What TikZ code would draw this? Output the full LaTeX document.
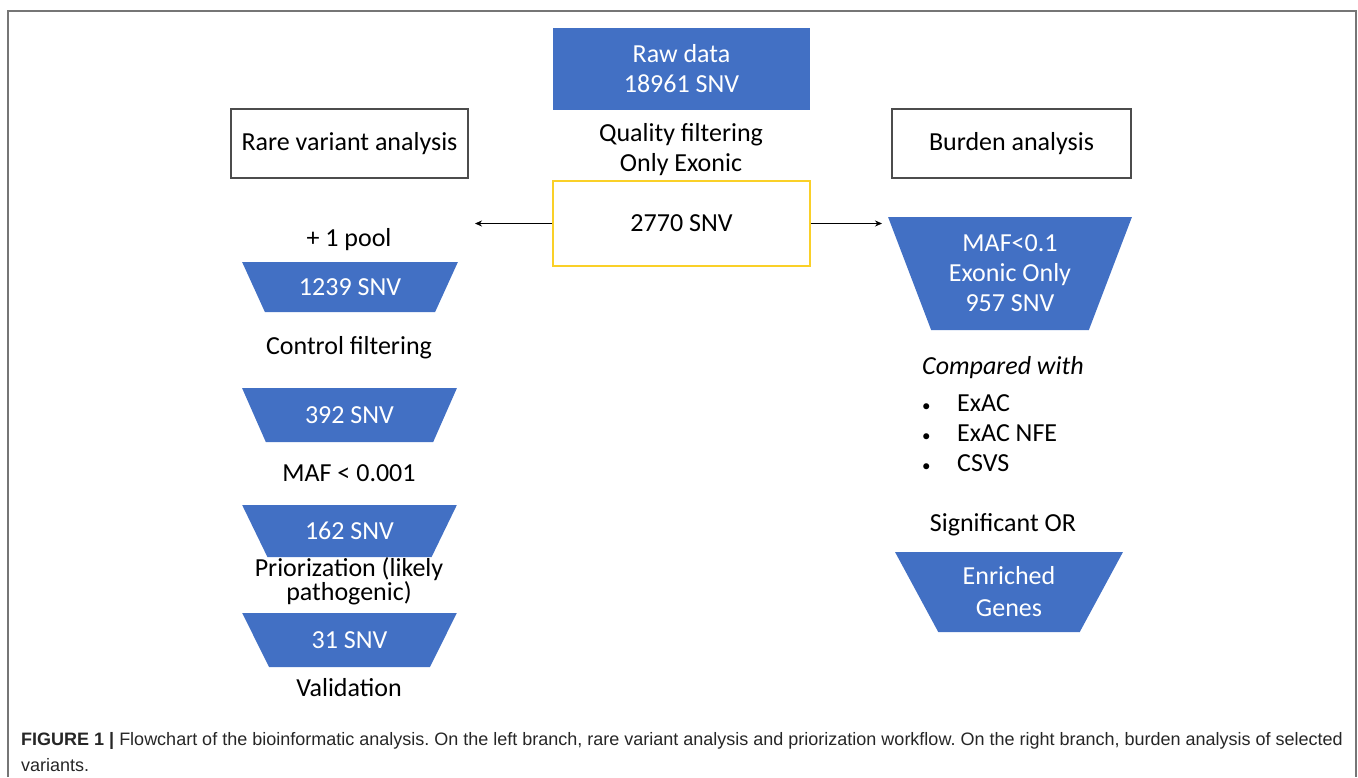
\documentclass[tikz,border=0pt]{standalone}
\usepackage{fontspec}
\setmainfont{Carlito}
\newfontfamily\captionfont{Liberation Sans}
\usepackage{xcolor}
\usetikzlibrary{arrows.meta, shapes.geometric}

\definecolor{flowblue}{RGB}{66,112,196}
\definecolor{boxgold}{RGB}{250,208,40}
\definecolor{framegray}{RGB}{118,118,118}

\frenchspacing
\begin{document}
\begin{tikzpicture}[
    x=1pt, y=-1pt,
    every node/.style={font=\fontsize{26}{30}\selectfont},
    title/.style={rectangle, draw=black!70, line width=1.2pt, minimum width=237pt, minimum height=69pt, inner sep=0pt},
    source/.style={rectangle, fill=flowblue, text=white, minimum width=257pt, minimum height=82pt, align=center},
    funnel/.style={trapezium, shape border rotate=180, trapezium stretches=true, fill=flowblue, text=white, inner sep=0pt, align=center},
    steplabel/.style={align=center},
    listitem/.style={anchor=west, inner sep=0pt},
    captionline/.style={anchor=base west, inner sep=0pt, text=black!85, font=\captionfont\fontsize{18}{26}\selectfont},
    arrow/.style={-{Stealth[length=7pt, width=6pt]}, line width=0.7pt}
]
    \useasboundingbox (0,0) rectangle (1358,777);
    \draw[framegray, line width=2pt] (7.5,777) -- (7.5,10.5) -- (1356,10.5) -- (1356,777);

    % Nodes - centre column
    \node[source] (raw) at (681.5,69) {Raw data\\18961 SNV};
    \node[steplabel] (quality) at (681,150) {Quality filtering\\Only Exonic};
    \node[rectangle, draw=boxgold, line width=1.2pt, minimum width=257pt, minimum height=85pt] (snv) at (681.5,223.5) {2770 SNV};
    \coordinate (lefttip) at (475,224);
    \coordinate (righttip) at (882,224);

    % Nodes - left branch
    \node[title] (rare) at (349.5,143.5) {Rare variant analysis};
    \node[steplabel] (pool) at (349,240) {+ 1 pool};
    \node[funnel, minimum width=216pt, minimum height=50pt, trapezium angle=51.3] (f1239) at (350,287) {1239 SNV};
    \node[steplabel] (control) at (349,348) {Control filtering};
    \node[funnel, minimum width=215pt, minimum height=54pt, trapezium angle=53.5] (f392) at (349.5,415) {392 SNV};
    \node[steplabel] (maf) at (349,473) {MAF < 0.001};
    \node[funnel, minimum width=215pt, minimum height=52pt, trapezium angle=52.4] (f162) at (349.5,531) {162 SNV};
    \node[steplabel, font=\fontsize{26}{24}\selectfont] (prior) at (349,581) {Priorization (likely\\pathogenic)};
    \node[funnel, minimum width=215pt, minimum height=54pt, trapezium angle=53.5] (f31) at (349.5,640) {31 SNV};
    \node[steplabel] (valid) at (349,688) {Validation};

    % Nodes - right branch
    \node[title, minimum width=239pt] (burden) at (1011.5,143.5) {Burden analysis};
    \node[funnel, minimum width=244pt, minimum height=113pt, trapezium angle=66.6] (f957) at (1010,273.5) {MAF<0.1\\Exonic Only\\957 SNV};
    \node[listitem] (compared) at (922,368) {\itshape Compared with};
    \node[listitem] (exac) at (922,403) {\makebox[35pt][l]{\fontsize{17}{17}\selectfont\textbullet}ExAC};
    \node[listitem] (nfe) at (922,433) {\makebox[35pt][l]{\fontsize{17}{17}\selectfont\textbullet}ExAC NFE};
    \node[listitem] (csvs) at (922,463) {\makebox[35pt][l]{\fontsize{17}{17}\selectfont\textbullet}CSVS};
    \node[steplabel] (signif) at (1003,525) {Significant OR};
    \node[funnel, minimum width=228pt, minimum height=80pt, trapezium angle=60.6, font=\fontsize{26}{32}\selectfont] (genes) at (1009,592) {Enriched\\Genes};

    % Arrows
    \draw[arrow] (snv.west) -- (lefttip |- snv.west);
    \draw[arrow] (snv.east) -- (righttip |- snv.east);

    % Caption
    \node[captionline] (caption) at (21,745) {\textbf{FIGURE 1 |} Flowchart of the bioinformatic analysis. On the left branch, rare variant analysis and priorization workflow. On the right branch, burden analysis of selected};
    \node[captionline] (captionend) at (21,771) {variants.};
\end{tikzpicture}
\end{document}
